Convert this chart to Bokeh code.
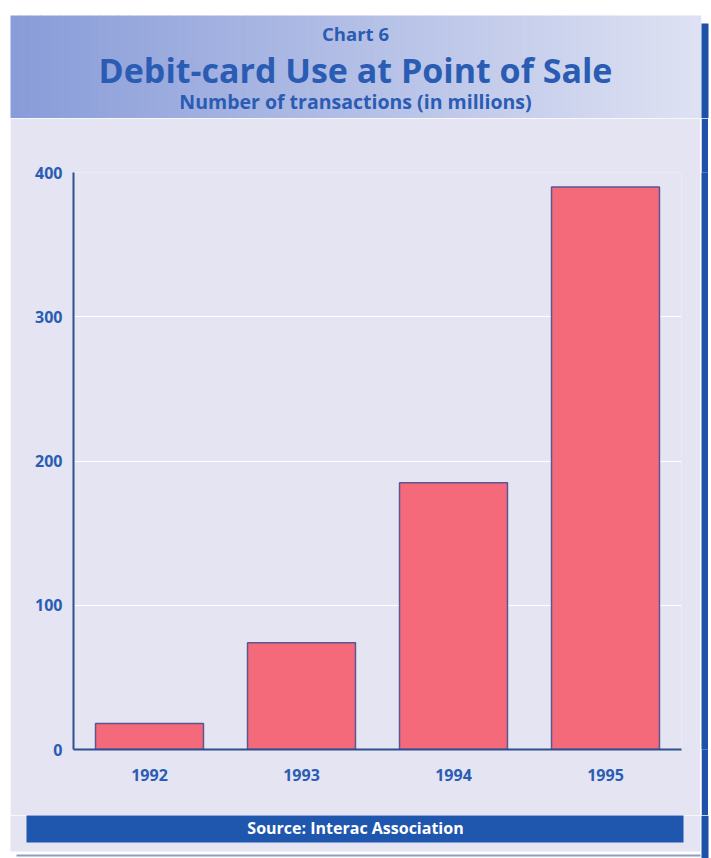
from bokeh.plotting import figure
from bokeh.models import FixedTicker, Range1d
from bokeh.layouts import column, row
from bokeh.core.properties import value
from bokeh.embed import file_html
from bokeh.resources import INLINE

years = ["1992", "1993", "1994", "1995"]
transactions = [18, 74, 185, 390]
y_ticks = [0, 100, 200, 300, 400]

TITLE_TOP = "Chart 6"
TITLE = "Debit-card Use at Point of Sale"
SUBTITLE = "Number of transactions (in millions)"
SOURCE = "Source: Interac Association"

FONT = "Open Sans"
BLUE_TXT = "#2a5cb4"
PANEL = "#e4e4f2"
EDGE = "#1d52a8"


def deco(w, h, color="white"):
    f = figure(width=w, height=h, x_range=Range1d(0, w), y_range=Range1d(h, 0),
               output_backend="svg", toolbar_location=None,
               x_axis_location=None, y_axis_location=None, min_border=0)
    f.grid.grid_line_color = None
    f.outline_line_color = None
    f.background_fill_color = color
    f.border_fill_color = color
    return f


def txt(f, s, x, y, size, color):
    f.text(x=[x], y=[y], text=[s], text_font=value(FONT), text_font_style="bold",
           text_font_size=size, text_color=color, text_align="center",
           text_baseline="middle")


# ---- top band ----
top = deco(711, 118)
c0 = (137, 156, 217)
c1 = (222, 225, 243)
n = 70
lefts, rights, cols = [], [], []
for i in range(n):
    t = i / (n - 1)
    cols.append("#%02x%02x%02x" % tuple(int(c0[k] + (c1[k] - c0[k]) * t) for k in range(3)))
    lefts.append(10 + 690 * i / n)
    rights.append(10 + 690 * (i + 1) / n + 0.7)
top.quad(left=lefts, right=rights, top=[15] * n, bottom=[118] * n, fill_color=cols, line_color=None)
top.quad(left=[701], right=[708], top=[23], bottom=[118], fill_color=EDGE, line_color=None)
txt(top, TITLE_TOP, 355, 33, "18.5px", BLUE_TXT)
txt(top, TITLE, 355, 69, "34px", BLUE_TXT)
txt(top, SUBTITLE, 355, 101, "19.5px", BLUE_TXT)

# ---- chart ----
p = figure(x_range=years, y_range=(0, 400), width=690, height=697,
           output_backend="svg", toolbar_location=None,
           min_border_left=63, min_border_right=19, min_border_top=54, min_border_bottom=66)
p.border_fill_color = PANEL
p.background_fill_color = PANEL
p.outline_line_color = None
p.x_range.range_padding = 0.0

p.vbar(x=years, top=transactions, width=0.71, fill_color="#f56a7b",
       line_color="#5b5590", line_width=1.5)

p.xgrid.grid_line_color = None
p.ygrid.grid_line_color = "white"
p.ygrid.grid_line_width = 1.2
p.ygrid.ticker = FixedTicker(ticks=y_ticks)
p.yaxis.ticker = FixedTicker(ticks=y_ticks)
for ax in (p.xaxis[0], p.yaxis[0]):
    ax.axis_line_color = "#2e4f8e"
    ax.axis_line_width = 2
    ax.major_tick_line_color = None
    ax.minor_tick_line_color = None
    ax.major_label_text_font = FONT
    ax.major_label_text_font_style = "bold"
    ax.major_label_text_color = BLUE_TXT
    ax.major_label_text_font_size = "16px"
p.yaxis.major_label_standoff = 5
p.xaxis.major_label_standoff = 13

mid = row(deco(10, 697), p, deco(1, 697), deco(7, 697, EDGE), deco(3, 697), spacing=0)

# ---- bottom band ----
bot = deco(711, 43)
bot.quad(left=[10], right=[700], top=[0], bottom=[36], fill_color=PANEL, line_color=None)
bot.quad(left=[26], right=[683], top=[-2], bottom=[27], fill_color="#1f56ae", line_color=None)
bot.quad(left=[16], right=[700], top=[39], bottom=[41], fill_color="#8f9cc4", line_color=None)
bot.quad(left=[701], right=[708], top=[0], bottom=[43], fill_color=EDGE, line_color=None)
txt(bot, SOURCE, 355, 12.5, "16px", "white")

layout = column(top, mid, bot, spacing=0)
open("out.html", "w").write(file_html(layout, INLINE))
